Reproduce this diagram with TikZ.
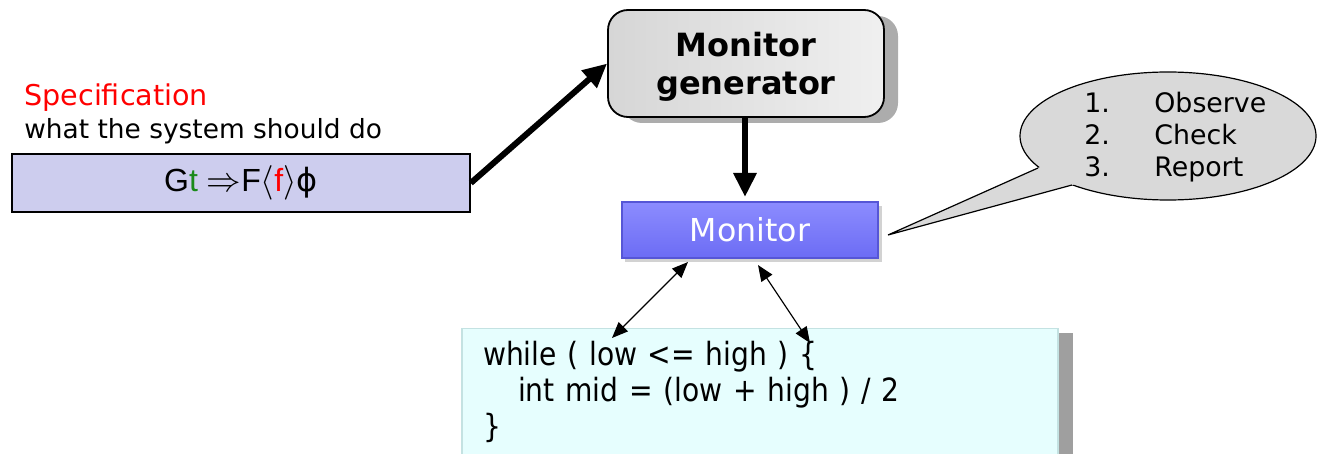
\documentclass[tikz,border=0pt]{standalone}
\usepackage{fontspec}
\setmainfont{DejaVu Sans}
\newfontfamily\arialf{Liberation Sans}
\newfontfamily\dejaf{DejaVu Sans}
\newfontfamily\codefont[FakeStretch=0.88]{DejaVu Sans}
\usetikzlibrary{arrows.meta,shapes.geometric,calc}
\definecolor{specfill}{HTML}{CDCDEE}
\definecolor{genfill}{HTML}{D6D6D6}
\definecolor{monA}{HTML}{8C8CFF}
\definecolor{monB}{HTML}{6C6CF4}
\definecolor{monD}{HTML}{5656D6}
\definecolor{codefill}{HTML}{E6FEFE}
\definecolor{codedraw}{HTML}{C4E2E2}
\definecolor{callfill}{HTML}{D9D9D9}
\definecolor{tgreen}{HTML}{1A8A1A}
\tikzset{
  specbox/.style={draw=black,line width=0.8pt,fill=specfill,minimum width=229pt,minimum height=29pt,inner sep=0pt,font=\fontsize{16}{19}\selectfont\arialf},
  genbox/.style={draw=black,line width=0.9pt,left color=genfill,right color=white!94!black,rounded corners=10pt,minimum width=138pt,minimum height=53.5pt,inner sep=0pt},
  gentextstyle/.style={inner sep=0pt,align=center,font=\fontsize{16}{19}\selectfont\bfseries},
  monbox/.style={draw=monD,line width=0.6pt,top color=monA,bottom color=monB,minimum width=128pt,minimum height=28pt,inner sep=0pt,text=white,font=\fontsize{15.8}{18}\selectfont},
  codebox/.style={draw=codedraw,line width=0.6pt,fill=codefill,minimum width=298pt,minimum height=63.5pt,text width=277pt,inner xsep=10.5pt,inner ysep=0pt,align=left,font=\fontsize{16}{17.8}\selectfont\codefont},
  callbox/.style={ellipse,draw=black,line width=0.6pt,fill=callfill,minimum width=148pt,minimum height=64pt,inner sep=0pt,font=\fontsize{13.4}{16.2}\selectfont},
  bigarrow/.style={line width=3pt,-{Triangle[length=12pt,width=11pt]}},
  thinarrow/.style={line width=0.6pt,{Triangle[length=8pt,width=6.5pt]}-{Triangle[length=8pt,width=6.5pt]}},
  plain/.style={inner sep=0pt,anchor=west}
}
\begin{document}
\begin{tikzpicture}[x=0.5pt,y=-0.5pt]
\useasboundingbox (0,0) rectangle (1321,454);
% shadows
\fill[gray!65,rounded corners=10pt] (622,16) rectangle (898,123);
\fill[gray!35] (625,206) rectangle (882,262);
\fill[gray!75] (1058,333) rectangle (1073,454);
% nodes
\node[plain,text=red,font=\fontsize{14.3}{16}\selectfont] (spectitle) at (24,98) {Specification};
\node[plain,font=\fontsize{13.2}{15}\selectfont] (specsub) at (24,131) {what the system should do};
\node[specbox] (spec) at (241,183) {G\textcolor{tgreen}{t} $\Rightarrow$F$\langle$\textcolor{red}{f}$\rangle${\dejaf ϕ}};
\node[genbox] (gen) at (746,63.5) {};
\node[gentextstyle] (gentext) at (746,67) {Monitor\\generator};
\node[monbox] (mon) at (750,230) {Monitor};
\node[codebox] (code) at (760,392) {while ( low <= high ) \{\\\hspace*{17.5pt}int mid = (low + high ) / 2\\\}};
\node[callbox] (call) at (1168,136) {};
\node[inner sep=0pt,anchor=west,font=\fontsize{13.4}{16.2}\selectfont] (calltext) at (1084,138) {\begin{tabular}{@{}l@{}}\makebox[35pt][l]{1.}Observe\\\makebox[35pt][l]{2.}Check\\\makebox[35pt][l]{3.}Report\end{tabular}};
% callout tail
\coordinate (tailA) at (1038,168);
\coordinate (tailB) at (1072,185);
\coordinate (tip) at (888,235);
\fill[callfill] ($(tailA)!-0.1!(tip)$) -- (tip) -- ($(tailB)!-0.1!(tip)$) -- cycle;
\draw[line width=0.6pt,line join=miter] (tailA) -- (tip) -- (tailB);
% connectors
\draw[bigarrow] (spec.east) -- (gen.west);
\draw[bigarrow] (gen.south -| 745,0) -- (745,197);
\coordinate (m1) at (688,262);
\coordinate (c1) at (612,338);
\coordinate (m2) at (758,265);
\coordinate (c2) at (810,343);
\draw[thinarrow] (m1) -- (c1);
\draw[thinarrow] (m2) -- (c2);
\end{tikzpicture}
\end{document}
